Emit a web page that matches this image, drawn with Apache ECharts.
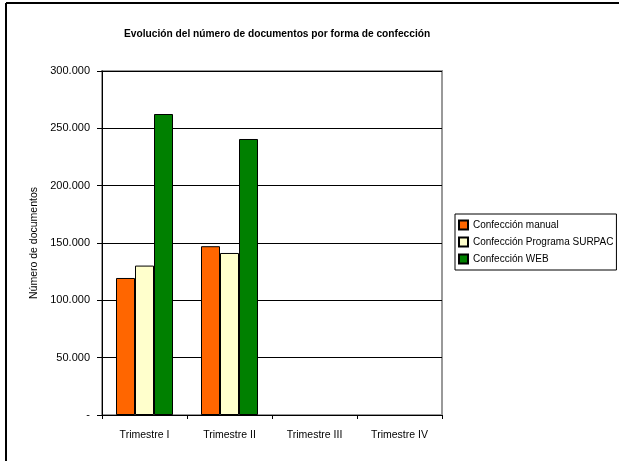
<!DOCTYPE html>
<html>
<head>
<meta charset="utf-8">
<script src="https://cdn.jsdelivr.net/npm/echarts@6/dist/echarts.min.js"></script>
<style>html,body{margin:0;padding:0;background:#fff}#c{width:619px;height:461px}</style>
</head>
<body>
<div id="c"></div>
<script>
var categories = ['Trimestre I', 'Trimestre II', 'Trimestre III', 'Trimestre IV'];
var seriesNames = ['Confección manual', 'Confección Programa SURPAC', 'Confección WEB'];
var manual = [119500, 147200, null, null];
var surpac = [130300, 141300, null, null];
var web = [262500, 240700, null, null];
var colors = ['#FF6600', '#FFFFCC', '#008000'];
var FONT = "'Liberation Sans Narrow', 'Arial Narrow', 'Liberation Sans', sans-serif";

function fmt(v) {
  if (v === 0) return '-';
  return String(v).replace(/\B(?=(\d{3})+(?!\d))/g, '.');
}

var chart = echarts.init(document.getElementById('c'), null, {renderer: 'canvas'});
var values = [manual, surpac, web];
chart.setOption({
  animation: false,
  backgroundColor: '#fff',
  textStyle: {fontFamily: FONT, color: '#000'},
  title: {
    text: 'Evolución del número de documentos por forma de confección',
    left: 119, top: 24, textAlign: 'left',
    textStyle: {fontFamily: FONT, fontSize: 10.2, fontWeight: 'bold', color: '#000'}
  },
  graphic: [
    {type: 'line', shape: {x1: 6, y1: 3, x2: 619, y2: 3}, style: {stroke: '#000', lineWidth: 2}},
    {type: 'line', shape: {x1: 6, y1: 3, x2: 6, y2: 461}, style: {stroke: '#000', lineWidth: 2}}
  ],
  legend: {
    orient: 'vertical', left: 455, top: 214,
    itemWidth: 9, itemHeight: 9, itemGap: 5,
    padding: [5, 3, 5, 3],
    borderColor: '#000', borderWidth: 1,
    icon: 'rect',
    textStyle: {fontFamily: FONT, fontSize: 10, color: '#000', lineHeight: 12},
    data: seriesNames
  },
  grid: {left: 102, top: 71, right: 177, bottom: 46, show: true, borderColor: '#999', borderWidth: 2, backgroundColor: 'transparent'},
  xAxis: {
    type: 'category', data: categories,
    axisLine: {lineStyle: {color: '#000', width: 1}},
    axisTick: {show: true, alignWithLabel: false, length: 4, lineStyle: {color: '#000'}},
    axisLabel: {fontFamily: FONT, fontSize: 10.5, color: '#000', margin: 15}
  },
  yAxis: {
    type: 'value', min: 0, max: 300000, interval: 50000,
    name: 'Número de documentos', nameLocation: 'middle', nameGap: 62, nameRotate: 90,
    nameTextStyle: {fontFamily: FONT, fontSize: 10.5, color: '#000'},
    axisLine: {show: true, lineStyle: {color: '#000', width: 1}},
    axisTick: {show: true, length: 5, lineStyle: {color: '#000'}},
    axisLabel: {fontFamily: FONT, fontSize: 11, color: '#000', margin: 12, formatter: fmt},
    splitLine: {show: true, lineStyle: {color: '#000', width: 1}}
  },
  series: seriesNames.map(function (n, i) {
    return {
      name: n, type: 'bar', data: values[i], barWidth: 19, barGap: '0%',
      itemStyle: {color: colors[i], borderColor: '#000', borderWidth: 1}
    };
  })
});
</script>
</body>
</html>
